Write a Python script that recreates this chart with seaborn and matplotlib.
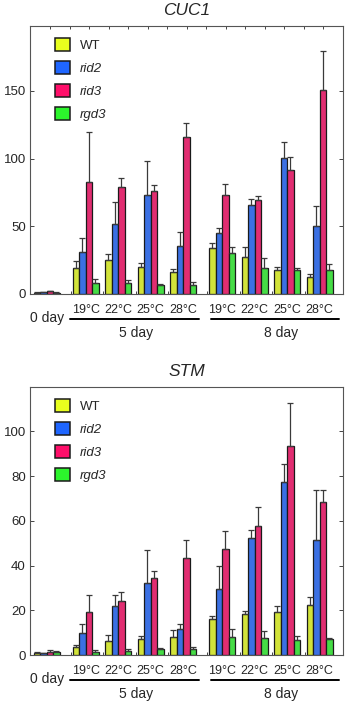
import numpy as np
import pandas as pd
import matplotlib
matplotlib.use("Agg")
import matplotlib.pyplot as plt
from matplotlib.patches import Patch
from matplotlib.lines import Line2D
import seaborn as sns

# conditions: 0 day, 5 day (19/22/25/28 C), 8 day (19/22/25/28 C)
positions = [0, 1.2, 2.2, 3.2, 4.2, 5.4, 6.4, 7.4, 8.4]
temps = ["19°C", "22°C", "25°C", "28°C"]
genotypes = ["WT", "rid2", "rid3", "rgd3"]
colors = ["#e8ff1e", "#1f66ff", "#ff0f6a", "#2cf52c"]

# CUC1 means and (upper) error bars
cuc1_wt = [1.0, 19.2, 24.9, 20.1, 16.4, 33.8, 27.3, 18.0, 12.3]
cuc1_rid2 = [1.2, 31.3, 52.0, 72.9, 35.8, 45.3, 65.5, 100.8, 50.5]
cuc1_rid3 = [2.0, 82.6, 79.3, 76.1, 115.9, 72.8, 69.5, 91.8, 150.5]
cuc1_rgd3 = [1.0, 8.0, 8.0, 6.5, 7.0, 30.3, 19.3, 18.0, 18.0]
cuc1_wt_err = [0.3, 5.4, 4.7, 2.8, 2.0, 3.8, 7.2, 2.0, 2.5]
cuc1_rid2_err = [0.3, 10.2, 15.7, 25.1, 10.0, 3.3, 4.5, 11.7, 14.5]
cuc1_rid3_err = [0.5, 37.3, 6.5, 4.7, 10.2, 8.5, 3.0, 9.7, 28.8]
cuc1_rgd3_err = [0.3, 3.4, 2.0, 1.2, 2.0, 4.7, 7.2, 1.5, 3.8]

# STM means and (upper) error bars
stm_wt = [1.0, 3.6, 6.4, 7.2, 7.9, 16.3, 18.5, 19.4, 22.4]
stm_rid2 = [0.7, 9.7, 21.8, 32.1, 11.8, 29.7, 52.2, 77.4, 51.3]
stm_rid3 = [1.5, 19.4, 24.3, 34.3, 43.5, 47.4, 57.8, 93.4, 68.5]
stm_rgd3 = [1.2, 1.5, 1.8, 2.5, 2.9, 8.2, 7.8, 6.8, 7.2]
stm_wt_err = [0.2, 0.7, 2.4, 1.5, 3.3, 1.2, 1.4, 2.4, 3.5]
stm_rid2_err = [0.2, 4.2, 5.0, 14.9, 1.9, 10.2, 3.9, 8.1, 22.4]
stm_rid3_err = [0.7, 7.5, 3.9, 3.2, 8.0, 7.9, 8.2, 19.2, 5.2]
stm_rgd3_err = [0.4, 0.6, 1.1, 0.7, 0.8, 3.3, 2.9, 1.9, 0.3]

sns.set_style("ticks")
plt.rcParams["font.family"] = ["Liberation Sans", "DejaVu Sans"]


def make_df(vals, errs):
    rows = []
    for g, v, e in zip(genotypes, vals, errs):
        for p, vv, ee in zip(positions, v, e):
            rows.append({"pos": p, "genotype": g, "value": vv, "err": ee})
    return pd.DataFrame(rows)


def draw(ax, df, title, ylim, yticks, top_ticks):
    sns.barplot(data=df, x="pos", y="value", hue="genotype", hue_order=genotypes,
                palette=colors, native_scale=True, width=0.8, dodge=True,
                errorbar=None, edgecolor="#1a1a1a", linewidth=0.9, ax=ax,
                legend=False)
    # upper error bars
    for i, g in enumerate(genotypes):
        sub = df[df["genotype"] == g]
        xs = sub["pos"].to_numpy() + (i - 1.5) * 0.2
        ax.errorbar(xs, sub["value"], yerr=[np.zeros(len(sub)), sub["err"]],
                    fmt="none", ecolor="#3a3a3a", elinewidth=0.9, capsize=2.2,
                    capthick=0.9, zorder=1)
    ax.set_xlim(-0.51, 9.12)
    ax.set_ylim(*ylim)
    ax.set_yticks(yticks)
    ax.set_xlabel("")
    ax.set_ylabel("")
    ax.set_xticks([0.75, 1.75, 2.75, 3.75, 4.95, 5.95, 6.95, 7.95])
    ax.set_xticklabels([])
    ax.tick_params(axis="x", direction="in", length=2.5, width=0.7, color="#444444")
    ax.tick_params(axis="y", direction="in", length=3, width=0.7, right=True,
                   labelsize=9.5, pad=3, color="#444444")
    for s in ax.spines.values():
        s.set_visible(True)
        s.set_linewidth(0.8)
        s.set_color("#555555")
    if top_ticks:
        sec = ax.secondary_xaxis("top")
        sec.set_xticks([0.11 + 0.6 * k for k in range(15)])
        sec.set_xticklabels([])
        sec.tick_params(direction="in", length=2.5, width=0.7, color="#444444")
        sec.spines["top"].set_visible(False)
    ax.set_title(title, fontstyle="italic", fontsize=12.5, pad=8)

    tr = ax.get_xaxis_transform()
    ax.text(0, -0.088, "0 day", transform=tr, ha="center", va="center", fontsize=10)
    for p, t in zip(positions[1:], temps + temps):
        ax.text(p, -0.06, t, transform=tr, ha="center", va="center", fontsize=9)
    for x0, x1, xc in [(0.72, 4.69, 2.75), (5.06, 9.0, 7.2)]:
        ax.add_line(Line2D([x0, x1], [-0.094, -0.094], transform=tr, color="black",
                           lw=1.4, clip_on=False))
        ax.text(xc, -0.147, "5 day" if xc < 5 else "8 day", transform=tr,
                ha="center", va="center", fontsize=10)

    handles = [Patch(facecolor=c, edgecolor="#1a1a1a", linewidth=1.1) for c in colors]
    leg = ax.legend(handles, genotypes, loc="upper left", bbox_to_anchor=(0.08, 0.955),
                    frameon=False, fontsize=9.5, handlelength=1.15, handleheight=1.15,
                    handletextpad=0.7, labelspacing=0.68, borderpad=0, borderaxespad=0)
    for t in leg.get_texts()[1:]:
        t.set_fontstyle("italic")


fig = plt.figure(figsize=(3.47, 7.04), dpi=100)
ax1 = fig.add_axes([0.0865, 0.5824, 0.902, 0.3807])
ax2 = fig.add_axes([0.0865, 0.0696, 0.902, 0.381])

df1 = make_df([cuc1_wt, cuc1_rid2, cuc1_rid3, cuc1_rgd3],
              [cuc1_wt_err, cuc1_rid2_err, cuc1_rid3_err, cuc1_rgd3_err])
df2 = make_df([stm_wt, stm_rid2, stm_rid3, stm_rgd3],
              [stm_wt_err, stm_rid2_err, stm_rid3_err, stm_rgd3_err])

draw(ax1, df1, "CUC1", (0, 198), [0, 50, 100, 150], True)
draw(ax2, df2, "STM", (0, 120), [0, 20, 40, 60, 80, 100], False)

fig.savefig("out.png", dpi=100)
